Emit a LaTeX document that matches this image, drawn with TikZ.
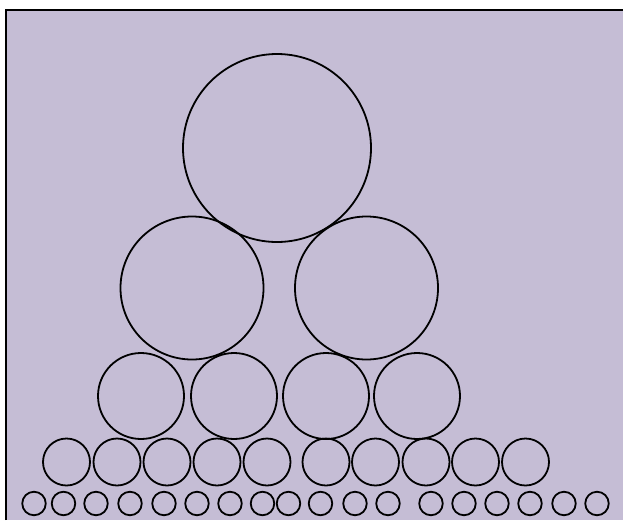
\documentclass[tikz,border=0pt]{standalone}
\usetikzlibrary{positioning}
\definecolor{paper}{RGB}{197,189,213}
\tikzset{
  ball/.style={circle, draw, line width=1.8pt, inner sep=0pt, outer sep=0pt},
  frm/.style={line width=2pt}
}
\begin{document}
\begin{tikzpicture}[x=1pt, y=-1pt]
	\useasboundingbox (0,0) rectangle (623,520);
	% paper and frame
	\fill[paper] (6,10) rectangle (623,520);
	\draw[frm] (6,520) -- (6,10) -- (623,10);
	% top
	\node[ball, minimum size=188pt] (top) at (277,148) {};
	% second row
	\node[ball, minimum size=143pt] (lft) at (192,288) {};
	\node[ball, minimum size=143pt] (rgt) at (366.5,288) {};
	% third row
	\foreach \i/\x in {1/141, 2/234, 3/326, 4/417} {
		\node[ball, minimum size=86pt] (m\i) at (\x,396) {};
	}
	% fourth row
	\foreach \i/\x in {1/66.5, 2/117, 3/167, 4/217, 5/267, 6/326, 7/375.5, 8/426, 9/475.5, 10/525.5} {
		\node[ball, minimum size=47pt] (s\i) at (\x,462) {};
	}
	% bottom row
	\foreach \i/\x in {1/34, 2/63.5, 3/96, 4/130, 5/164, 6/197, 7/230, 8/262.5, 9/288.5, 10/320.5, 11/355, 12/388, 13/431, 14/464, 15/497, 16/530, 17/564, 18/597} {
		\node[ball, minimum size=23.5pt] (t\i) at (\x,503.5) {};
	}
\end{tikzpicture}
\end{document}
